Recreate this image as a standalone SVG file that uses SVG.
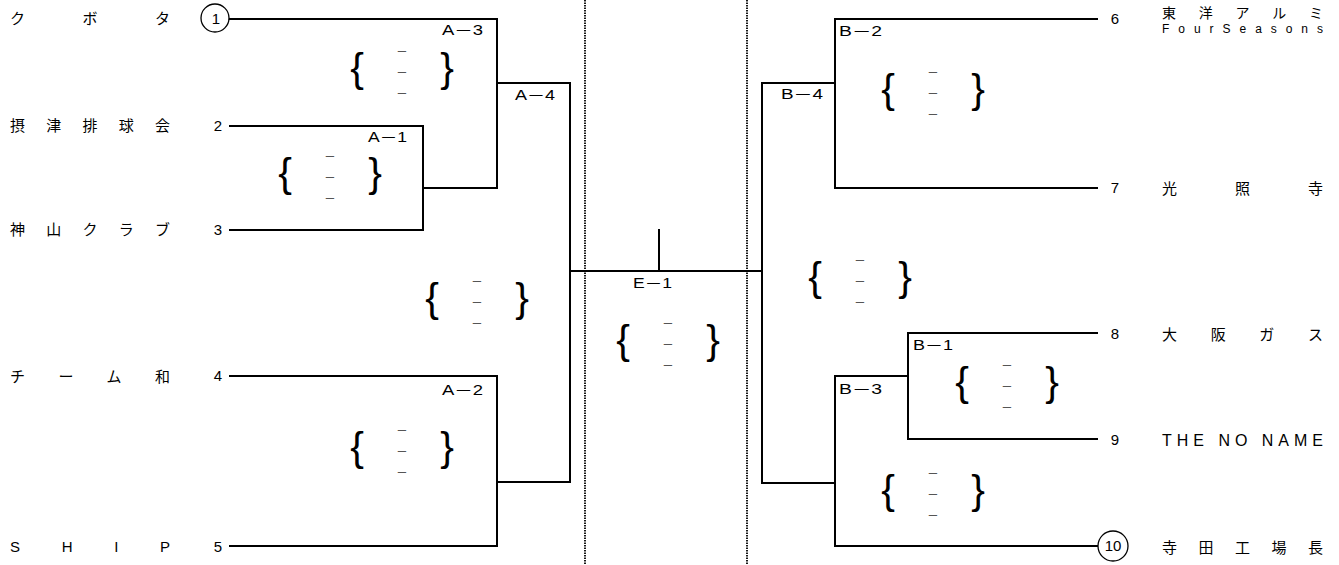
<svg xmlns="http://www.w3.org/2000/svg" width="1339" height="565" viewBox="0 0 1339 565">
<style>
.ln{stroke:#000;stroke-width:2;fill:none;stroke-linecap:square}
.dot{stroke:#000;stroke-width:1.8;stroke-dasharray:1.5 1;fill:none}
.nm{font-family:"Noto Sans CJK JP","Liberation Sans",sans-serif;font-size:15px;fill:#000}
.en{font-family:"Liberation Sans","Noto Sans CJK JP",sans-serif;font-size:15px;fill:#000}
.num{font-family:"Liberation Sans",sans-serif;font-size:15px;fill:#000;text-anchor:middle}
.lb{font-family:"Liberation Sans","Noto Sans CJK JP",sans-serif;font-size:14px;fill:#000}
.br{font-family:"Liberation Sans",sans-serif;font-size:41px;fill:#000;text-anchor:middle}
.ds{font-family:"Liberation Sans",sans-serif;font-size:15px;fill:#555;text-anchor:middle}
.circ{stroke:#000;stroke-width:1.3;fill:#fff}
</style>
<defs>
<g id="score">
<text class="br" x="5" y="10">{</text>
<text class="ds" x="50" y="-17">–</text>
<text class="ds" x="50" y="4">–</text>
<text class="ds" x="50" y="25">–</text>
<text class="br" x="95" y="10">}</text>
</g>
</defs>
<rect width="1339" height="565" fill="#fff"/>
<g id="connectors">
<line class="dot" x1="585" y1="0" x2="585" y2="565"/>
<line class="dot" x1="747" y1="0" x2="747" y2="565"/>
<polyline class="ln" points="229,19 497,19 497,188 423,188"/>
<polyline class="ln" points="230,126 423,126 423,230 230,230"/>
<polyline class="ln" points="497,83 570,83 570,482 497,482"/>
<polyline class="ln" points="230,376 497,376 497,546 230,546"/>
<line class="ln" x1="570" y1="271" x2="762" y2="271"/>
<line class="ln" x1="659" y1="230" x2="659" y2="271"/>
<polyline class="ln" points="1097,19 835,19 835,188 1097,188"/>
<polyline class="ln" points="835,83 762,83 762,483 835,483"/>
<polyline class="ln" points="1097,333 908,333 908,439 1097,439"/>
<polyline class="ln" points="908,376 835,376 835,546 1097,546"/>
</g>
<g id="team1">
<text class="nm" x="10" y="24" textLength="160" lengthAdjust="spacing">クボタ</text>
<circle class="circ" cx="215" cy="18" r="14"/>
<text class="num" x="216" y="24">1</text>
</g>
<g id="team2">
<text class="nm" x="10" y="131" textLength="160" lengthAdjust="spacing">摂津排球会</text>
<text class="num" x="218" y="131">2</text>
</g>
<g id="team3">
<text class="nm" x="10" y="235" textLength="160" lengthAdjust="spacing">神山クラブ</text>
<text class="num" x="218" y="235">3</text>
</g>
<g id="team4">
<text class="nm" x="10" y="382" textLength="160" lengthAdjust="spacing">チーム和</text>
<text class="num" x="218" y="381">4</text>
</g>
<g id="team5">
<text class="en" x="10" y="552" textLength="160" lengthAdjust="spacing">SHIP</text>
<text class="num" x="218" y="552">5</text>
</g>
<g id="team6">
<text class="num" x="1115" y="24">6</text>
<text class="nm" x="1162" y="18" style="font-size:14px" textLength="161" lengthAdjust="spacing">東洋アルミ</text>
<text class="en" x="1162" y="33" style="font-size:12px" textLength="161" lengthAdjust="spacing">FourSeasons</text>
</g>
<g id="team7">
<text class="num" x="1115" y="193">7</text>
<text class="nm" x="1162" y="194" textLength="161" lengthAdjust="spacing">光照寺</text>
</g>
<g id="team8">
<text class="num" x="1115" y="339">8</text>
<text class="nm" x="1162" y="340" textLength="161" lengthAdjust="spacing">大阪ガス</text>
</g>
<g id="team9">
<text class="num" x="1115" y="445">9</text>
<text class="en" x="1162" y="446" style="font-size:16px" textLength="161" lengthAdjust="spacing">THE NO NAME</text>
</g>
<g id="team10">
<circle class="circ" cx="1113" cy="546" r="15"/>
<text class="num" x="1113" y="551">10</text>
<text class="nm" x="1162" y="553" textLength="161" lengthAdjust="spacing">寺田工場長</text>
</g>
<g id="A-1">
<text class="lb" x="368" y="142" textLength="39" lengthAdjust="spacingAndGlyphs">A－1</text>
<use href="#score" x="280" y="177"/>
</g>
<g id="A-2">
<text class="lb" x="442" y="395" textLength="41" lengthAdjust="spacingAndGlyphs">A－2</text>
<use href="#score" x="352" y="451"/>
</g>
<g id="A-3">
<text class="lb" x="442" y="35" textLength="41" lengthAdjust="spacingAndGlyphs">A－3</text>
<use href="#score" x="352" y="72"/>
</g>
<g id="A-4">
<text class="lb" x="515" y="100" textLength="40" lengthAdjust="spacingAndGlyphs">A－4</text>
<use href="#score" x="427" y="302"/>
</g>
<g id="E-1">
<text class="lb" x="633" y="288" textLength="39" lengthAdjust="spacingAndGlyphs">E－1</text>
<use href="#score" x="618" y="344"/>
</g>
<g id="B-1">
<text class="lb" x="913" y="350" textLength="40" lengthAdjust="spacingAndGlyphs">B－1</text>
<use href="#score" x="957" y="386"/>
</g>
<g id="B-2">
<text class="lb" x="839" y="36" textLength="43" lengthAdjust="spacingAndGlyphs">B－2</text>
<use href="#score" x="883" y="93"/>
</g>
<g id="B-3">
<text class="lb" x="839" y="394" textLength="43" lengthAdjust="spacingAndGlyphs">B－3</text>
<use href="#score" x="883" y="494"/>
</g>
<g id="B-4">
<text class="lb" x="781" y="99" textLength="42" lengthAdjust="spacingAndGlyphs">B－4</text>
<use href="#score" x="810" y="281"/>
</g>
</svg>
